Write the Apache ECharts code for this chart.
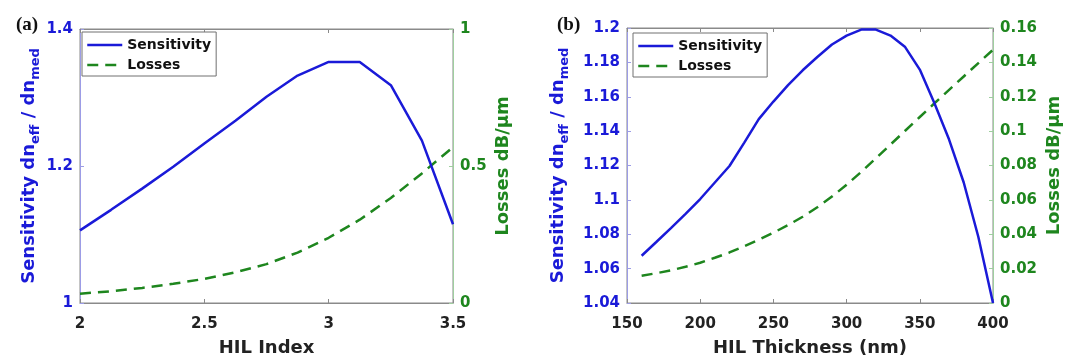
<!DOCTYPE html>
<html>
<head>
<meta charset="utf-8">
<script src="https://cdn.jsdelivr.net/npm/echarts@6/dist/echarts.min.js"></script>
<style>
  html, body { margin: 0; padding: 0; background: #fff; }
  #hilChart { width: 1067px; height: 362px; }
</style>
</head>
<body>
<div id="hilChart"></div>
<script>
  // (a) sweep over HIL index
  const hilIndex = [2, 2.125, 2.25, 2.375, 2.5, 2.625, 2.75, 2.875, 3, 3.125, 3.25, 3.375, 3.5]
  const sensIndex = [1.106, 1.136, 1.167, 1.199, 1.233, 1.266, 1.301, 1.332, 1.352, 1.352, 1.318, 1.237, 1.115]
  const lossIndex = [0.034, 0.043, 0.055, 0.070, 0.088, 0.112, 0.142, 0.184, 0.238, 0.304, 0.383, 0.473, 0.569]

  // (b) sweep over HIL thickness (nm)
  const hilThickness = [160, 170, 180, 190, 200, 210, 220, 230, 240, 250, 260, 270, 280, 290, 300, 310, 320, 330, 340, 350, 360, 370, 380, 390, 400]
  const sensThickness = [1.0675, 1.0755, 1.0836, 1.0919, 1.1005, 1.1101, 1.1197, 1.1332, 1.147, 1.1572, 1.1668, 1.1754, 1.1831, 1.1904, 1.1956, 1.1991, 1.1991, 1.1956, 1.1889, 1.1758, 1.1562, 1.1351, 1.1101, 1.0784, 1.04]
  const lossThickness = [0.0159, 0.0173, 0.0190, 0.0211, 0.0234, 0.0263, 0.0294, 0.0330, 0.0368, 0.0409, 0.0453, 0.0502, 0.0557, 0.0619, 0.0688, 0.0763, 0.0842, 0.0922, 0.1002, 0.1082, 0.1162, 0.1240, 0.1318, 0.1396, 0.1473]

  const blue = '#1a1ad8'
  const green = '#1e861e'
  const font = 'DejaVu Sans'

  const pairs = (xs, ys) => xs.map((x, i) => [x, ys[i]])

  // axis helpers
  function xAxisBottom(grid, min, max, interval, name) {
    return {
      type: 'value', gridIndex: grid, position: 'bottom',
      min: min, max: max, interval: interval,
      name: name, nameLocation: 'middle', nameGap: 36,
      nameTextStyle: { color: '#222', fontFamily: font, fontWeight: 'bold', fontSize: 18 },
      axisLine: { show: true, lineStyle: { color: '#8a8a8a', width: 1 } },
      axisTick: { show: true, inside: true, length: 4, lineStyle: { color: '#8a8a8a' } },
      axisLabel: { color: '#222', fontFamily: font, fontWeight: 'bold', fontSize: 15, margin: 14 },
      splitLine: { show: false }
    }
  }
  function xAxisTop(grid, min, max, interval) {
    return {
      type: 'value', gridIndex: grid, position: 'top',
      min: min, max: max, interval: interval,
      axisLine: { show: true, lineStyle: { color: '#8a8a8a', width: 1 } },
      axisTick: { show: true, inside: true, length: 4, lineStyle: { color: '#8a8a8a' } },
      axisLabel: { show: false },
      splitLine: { show: false }
    }
  }
  function yAxisLeft(grid, min, max, interval, gap) {
    return {
      type: 'value', gridIndex: grid, position: 'left',
      min: min, max: max, interval: interval,
      name: 'Sensitivity dn{s|eff} / dn{s|med}',
      nameLocation: 'middle', nameGap: gap, nameRotate: 90,
      nameTextStyle: {
        color: blue, fontFamily: font, fontWeight: 'bold', fontSize: 18, lineHeight: 26,
        rich: { s: { color: blue, fontFamily: font, fontWeight: 'bold', fontSize: 13, lineHeight: 12, verticalAlign: 'bottom' } }
      },
      axisLine: { show: true, lineStyle: { color: '#9c9ce6', width: 1 } },
      axisTick: { show: true, inside: true, length: 4, lineStyle: { color: '#9c9ce6' } },
      axisLabel: { color: blue, fontFamily: font, fontWeight: 'bold', fontSize: 15, margin: 7 },
      splitLine: { show: false }
    }
  }
  function yAxisRight(grid, min, max, interval, gap) {
    return {
      type: 'value', gridIndex: grid, position: 'right',
      min: min, max: max, interval: interval,
      name: 'Losses dB/μm',
      nameLocation: 'middle', nameGap: gap, nameRotate: 90,
      nameTextStyle: { color: green, fontFamily: font, fontWeight: 'bold', fontSize: 18 },
      axisLine: { show: true, lineStyle: { color: '#9fcf9f', width: 1 } },
      axisTick: { show: true, inside: true, length: 4, lineStyle: { color: '#9fcf9f' } },
      axisLabel: { color: green, fontFamily: font, fontWeight: 'bold', fontSize: 15, margin: 7 },
      splitLine: { show: false }
    }
  }
  function legendAt(left, top) {
    return {
      orient: 'vertical', left: left, top: top,
      data: ['Sensitivity', 'Losses'],
      itemWidth: 35, itemHeight: 16, itemGap: 6,
      padding: [6, 5, 4, 4],
      borderColor: '#707070', borderWidth: 1, borderRadius: 0,
      backgroundColor: '#fff',
      itemStyle: { opacity: 0 },
      lineStyle: { width: 2.5 },
      textStyle: { color: '#111', fontFamily: font, fontWeight: 'bold', fontSize: 14 }
    }
  }
  function sensSeries(xi, yi, data) {
    return {
      name: 'Sensitivity', type: 'line', xAxisIndex: xi, yAxisIndex: yi,
      data: data, symbol: 'none', smooth: false, z: 3,
      lineStyle: { color: blue, width: 2.5 }, itemStyle: { color: blue }
    }
  }
  function lossSeries(xi, yi, data) {
    return {
      name: 'Losses', type: 'line', xAxisIndex: xi, yAxisIndex: yi,
      data: data, symbol: 'none', smooth: false, z: 2,
      lineStyle: { color: green, width: 2.5, type: [11, 7] }, itemStyle: { color: green }
    }
  }

  let hilChart = echarts.init(document.getElementById('hilChart'))
  hilChart.setOption({
    animation: false,
    backgroundColor: '#fff',
    title: [
      { text: '(a)', left: 11, top: 11, textStyle: { fontFamily: 'Liberation Serif', fontWeight: 'bold', fontSize: 19, color: '#111' } },
      { text: '(b)', left: 552, top: 11, textStyle: { fontFamily: 'Liberation Serif', fontWeight: 'bold', fontSize: 19, color: '#111' } }
    ],
    legend: [legendAt(82, 32), legendAt(633, 33)],
    grid: [
      { left: 80, top: 29, width: 373, height: 277, show: true, borderColor: '#8a8a8a', borderWidth: 1, containLabel: false },
      { left: 627, top: 28, width: 366, height: 277, show: true, borderColor: '#8a8a8a', borderWidth: 1, containLabel: false }
    ],
    xAxis: [
      xAxisBottom(0, 2, 3.5, 0.5, 'HIL Index'),
      xAxisTop(0, 2, 3.5, 0.5),
      xAxisBottom(1, 150, 400, 50, 'HIL Thickness (nm)'),
      xAxisTop(1, 150, 400, 50)
    ],
    yAxis: [
      yAxisLeft(0, 1, 1.4, 0.2, 37),
      yAxisRight(0, 0, 1, 0.5, 41),
      yAxisLeft(1, 1.04, 1.2, 0.02, 56),
      yAxisRight(1, 0, 0.16, 0.02, 52)
    ],
    series: [
      sensSeries(0, 0, pairs(hilIndex, sensIndex)),
      lossSeries(0, 1, pairs(hilIndex, lossIndex)),
      sensSeries(2, 2, pairs(hilThickness, sensThickness)),
      lossSeries(2, 3, pairs(hilThickness, lossThickness))
    ]
  })
</script>
</body>
</html>
